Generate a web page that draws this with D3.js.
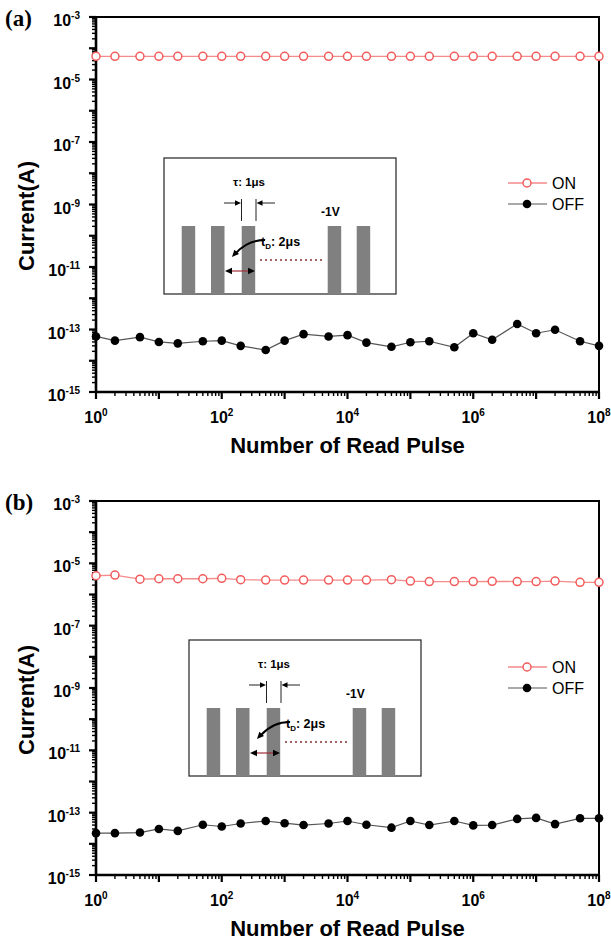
<!DOCTYPE html>
<html>
<head>
<meta charset="utf-8">
<script src="https://cdn.jsdelivr.net/npm/d3@7/dist/d3.min.js"></script>
<style>
  html, body { margin: 0; padding: 0; background: #fff; }
  svg { display: block; }
  text { font-family: Arial, "Liberation Sans", sans-serif; }
</style>
</head>
<body>
<svg id="chart" width="611" height="940"></svg>
<script>
// ---------------- data ----------------
const pulses = [1, 2, 5, 10, 20, 50, 100, 200, 500, 1e3, 2e3, 5e3, 1e4, 2e4, 5e4,
                1e5, 2e5, 5e5, 1e6, 2e6, 5e6, 1e7, 2e7, 5e7, 1e8];

const onA  = [5.5e-5, 5.5e-5, 5.5e-5, 5.5e-5, 5.5e-5, 5.5e-5, 5.5e-5, 5.5e-5, 5.5e-5,
              5.5e-5, 5.5e-5, 5.5e-5, 5.5e-5, 5.5e-5, 5.5e-5, 5.5e-5, 5.5e-5, 5.5e-5,
              5.5e-5, 5.5e-5, 5.5e-5, 5.5e-5, 5.5e-5, 5.5e-5, 5.5e-5];
const offA = [6.0e-14, 4.4e-14, 5.7e-14, 4.0e-14, 3.6e-14, 4.2e-14, 4.4e-14, 3.0e-14, 2.2e-14,
              4.4e-14, 7.1e-14, 6.0e-14, 6.6e-14, 3.8e-14, 2.8e-14, 3.9e-14, 4.2e-14, 2.7e-14,
              7.6e-14, 4.7e-14, 1.5e-13, 7.6e-14, 9.8e-14, 4.2e-14, 3.0e-14];

const onB  = [4.0e-6, 4.2e-6, 3.1e-6, 3.2e-6, 3.2e-6, 3.2e-6, 3.3e-6, 3.0e-6, 2.9e-6,
              2.9e-6, 2.9e-6, 2.9e-6, 2.9e-6, 2.9e-6, 3.0e-6, 2.7e-6, 2.6e-6, 2.6e-6,
              2.6e-6, 2.65e-6, 2.6e-6, 2.6e-6, 2.7e-6, 2.45e-6, 2.45e-6];
const offB = [2.2e-14, 2.2e-14, 2.3e-14, 3.0e-14, 2.6e-14, 4.1e-14, 3.6e-14, 4.5e-14, 5.4e-14,
              4.6e-14, 4.0e-14, 4.5e-14, 5.4e-14, 4.1e-14, 3.3e-14, 5.4e-14, 4.0e-14, 5.4e-14,
              3.9e-14, 4.0e-14, 6.3e-14, 6.8e-14, 4.3e-14, 6.6e-14, 6.6e-14];

const xTickExps = [0, 2, 4, 6, 8];
const yTickExps = [-3, -5, -7, -9, -11, -13, -15];
const seriesNames = ["ON", "OFF"];
const panelLabels = ["(a)", "(b)"];
const xTitle = "Number of Read Pulse";
const yTitle = "Current(A)";

// ---------------- drawing ----------------
const svg = d3.select("#chart");
const ON_COLOR = "#f25c5c";
const ON_LINE = "#f58a8a";

function supLabel(sel, exp) {
  sel.append("tspan").text("10");
  sel.append("tspan").attr("dy", -7).attr("font-size", 10).text(String(exp));
}

function drawPanel(cfg) {
  const g = svg.append("g");
  const x = d3.scaleLog().domain([1, 1e8]).range([cfg.left, cfg.right]);
  const y = d3.scaleLog().domain([1e-15, 1e-3]).range([cfg.bottom, cfg.top]);

  // minor & major ticks (outside)
  const yMinor = [], xMinor = [];
  for (let e = -15; e < -3; e++) for (let m = 2; m <= 9; m++) yMinor.push(m * Math.pow(10, e));
  for (let e = 0; e < 8; e++) for (let m = 2; m <= 9; m++) xMinor.push(m * Math.pow(10, e));
  const yMajor = d3.range(-15, -2).map(e => Math.pow(10, e));
  const xMajor = d3.range(0, 9).map(e => Math.pow(10, e));

  g.selectAll(".ymin").data(yMinor).join("line")
    .attr("x1", cfg.left - 4).attr("x2", cfg.left)
    .attr("y1", d => y(d)).attr("y2", d => y(d))
    .attr("stroke", "#000").attr("stroke-width", 1.4);
  g.selectAll(".ymaj").data(yMajor).join("line")
    .attr("x1", cfg.left - 7).attr("x2", cfg.left)
    .attr("y1", d => y(d)).attr("y2", d => y(d))
    .attr("stroke", "#000").attr("stroke-width", 2.2);
  g.selectAll(".xmin").data(xMinor).join("line")
    .attr("x1", d => x(d)).attr("x2", d => x(d))
    .attr("y1", cfg.bottom).attr("y2", cfg.bottom + 4)
    .attr("stroke", "#000").attr("stroke-width", 1.4);
  g.selectAll(".xmaj").data(xMajor).join("line")
    .attr("x1", d => x(d)).attr("x2", d => x(d))
    .attr("y1", cfg.bottom).attr("y2", cfg.bottom + 7)
    .attr("stroke", "#000").attr("stroke-width", 2.2);

  // frame
  g.append("rect")
    .attr("x", cfg.left).attr("y", cfg.top)
    .attr("width", cfg.right - cfg.left).attr("height", cfg.bottom - cfg.top)
    .attr("fill", "none").attr("stroke", "#000").attr("stroke-width", 2);
  g.append("line").attr("x1", cfg.left).attr("x2", cfg.left)
    .attr("y1", cfg.top).attr("y2", cfg.bottom + 1)
    .attr("stroke", "#000").attr("stroke-width", 2.6);
  g.append("line").attr("x1", cfg.left - 1).attr("x2", cfg.right)
    .attr("y1", cfg.bottom).attr("y2", cfg.bottom)
    .attr("stroke", "#000").attr("stroke-width", 2.6);

  // tick labels
  yTickExps.forEach(e => {
    const t = g.append("text").attr("x", 80).attr("y", y(Math.pow(10, e)) + 9)
      .attr("text-anchor", "end").attr("font-size", 16).attr("font-weight", "bold");
    supLabel(t, e);
  });
  xTickExps.forEach(e => {
    const t = g.append("text").attr("x", x(Math.pow(10, e))).attr("y", cfg.bottom + 31)
      .attr("text-anchor", "middle").attr("font-size", 16).attr("font-weight", "bold");
    supLabel(t, e);
  });

  // axis titles
  g.append("text").attr("x", (cfg.left + cfg.right) / 2).attr("y", cfg.bottom + 61)
    .attr("text-anchor", "middle").attr("font-size", 22).attr("font-weight", "bold")
    .text(xTitle);
  g.append("text")
    .attr("transform", `translate(34,${cfg.yTitleY}) rotate(-90)`)
    .attr("text-anchor", "middle").attr("font-size", 22).attr("font-weight", "bold")
    .text(yTitle);

  // panel label (serif)
  g.append("text").attr("x", 5).attr("y", cfg.top + 9)
    .style("font-family", "'Liberation Serif', 'Times New Roman', 'DejaVu Serif', serif")
    .attr("font-size", 23).attr("font-weight", "bold").text(cfg.label);

  // inset
  drawInset(g, cfg.insetX, cfg.insetY);

  // series
  const line = d3.line().x((d, i) => x(pulses[i])).y(d => y(d));
  g.append("path").datum(cfg.off).attr("d", line)
    .attr("fill", "none").attr("stroke", "#555").attr("stroke-width", 1.2);
  g.append("path").datum(cfg.on).attr("d", line)
    .attr("fill", "none").attr("stroke", ON_LINE).attr("stroke-width", 1.3);
  g.selectAll(".offpt").data(cfg.off).join("circle")
    .attr("cx", (d, i) => x(pulses[i])).attr("cy", d => y(d)).attr("r", 4.3)
    .attr("fill", "#000");
  g.selectAll(".onpt").data(cfg.on).join("circle")
    .attr("cx", (d, i) => x(pulses[i])).attr("cy", d => y(d)).attr("r", 4)
    .attr("fill", "#fff").attr("stroke", ON_COLOR).attr("stroke-width", 1.5);

  // legend
  const lg = g.append("g");
  const ly = [cfg.legendY, cfg.legendY + 21];
  lg.append("line").attr("x1", 508).attr("x2", 547).attr("y1", ly[0]).attr("y2", ly[0])
    .attr("stroke", ON_LINE).attr("stroke-width", 1.3);
  lg.append("circle").attr("cx", 527).attr("cy", ly[0]).attr("r", 4)
    .attr("fill", "#fff").attr("stroke", ON_COLOR).attr("stroke-width", 1.5);
  lg.append("line").attr("x1", 508).attr("x2", 547).attr("y1", ly[1]).attr("y2", ly[1])
    .attr("stroke", "#555").attr("stroke-width", 1.2);
  lg.append("circle").attr("cx", 527).attr("cy", ly[1]).attr("r", 4.3).attr("fill", "#000");
  seriesNames.forEach((s, i) => {
    lg.append("text").attr("x", 552).attr("y", ly[i] + 6).attr("font-size", 16).text(s);
  });
}

function arrowHead(g, tipX, tipY, angleDeg, size) {
  const a = angleDeg * Math.PI / 180;
  const L = size, W = size * 0.45;
  const bx = tipX - L * Math.cos(a), by = tipY - L * Math.sin(a);
  const px = -Math.sin(a) * W, py = Math.cos(a) * W;
  g.append("path")
    .attr("d", `M${tipX},${tipY}L${bx + px},${by + py}L${bx - px},${by - py}Z`)
    .attr("fill", "#000");
}

function drawInset(parent, ox, oy) {
  const g = parent.append("g").attr("transform", `translate(${ox},${oy})`);
  const W = 232, H = 136;
  g.append("rect").attr("x", 0).attr("y", 0).attr("width", W).attr("height", H)
    .attr("fill", "#fff").attr("stroke", "#333").attr("stroke-width", 1.3);
  [17.7, 47, 77.7, 163.7, 192.7].forEach(bx => {
    g.append("rect").attr("x", bx).attr("y", 68).attr("width", 13.5).attr("height", H - 68)
      .attr("fill", "#808080");
  });
  // tau markers
  [77.5, 92].forEach(vx => {
    g.append("line").attr("x1", vx).attr("x2", vx).attr("y1", 41).attr("y2", 63)
      .attr("stroke", "#222").attr("stroke-width", 1);
  });
  g.append("line").attr("x1", 60).attr("x2", 72).attr("y1", 45).attr("y2", 45)
    .attr("stroke", "#222").attr("stroke-width", 1);
  arrowHead(g, 77, 45, 0, 6);
  g.append("line").attr("x1", 98).attr("x2", 111).attr("y1", 45).attr("y2", 45)
    .attr("stroke", "#222").attr("stroke-width", 1);
  arrowHead(g, 92.5, 45, 180, 6);
  g.append("text").attr("x", 85).attr("y", 28).attr("text-anchor", "middle")
    .attr("font-size", 11.5).attr("font-weight", "bold").text("τ: 1μs");
  g.append("text").attr("x", 157).attr("y", 58)
    .attr("font-size", 12).attr("font-weight", "bold").text("-1V");
  const td = g.append("text").attr("x", 97).attr("y", 88)
    .attr("font-size", 12.5).attr("font-weight", "bold");
  td.append("tspan").text("t");
  td.append("tspan").attr("dy", 3).attr("font-size", 8).text("D");
  td.append("tspan").attr("dy", -3).text(": 2μs");
  // curved arrow
  g.append("path").attr("d", "M101,82 Q84,82 72,95")
    .attr("fill", "none").attr("stroke", "#000").attr("stroke-width", 2);
  arrowHead(g, 68, 99, 132, 7);
  // double arrow
  g.append("line").attr("x1", 66).attr("x2", 86).attr("y1", 113).attr("y2", 113)
    .attr("stroke", "#a0303a").attr("stroke-width", 1.2);
  arrowHead(g, 61, 113, 180, 7);
  arrowHead(g, 91, 113, 0, 7);
  // dotted
  g.append("line").attr("x1", 96).attr("x2", 158).attr("y1", 102).attr("y2", 102)
    .attr("stroke", "#8a3030").attr("stroke-width", 1.4).attr("stroke-dasharray", "2,3");
}

drawPanel({ label: panelLabels[0], left: 96, right: 599, top: 17, bottom: 392,
            on: onA, off: offA, insetX: 164, insetY: 158, legendY: 183, yTitleY: 216 });
drawPanel({ label: panelLabels[1], left: 96, right: 599, top: 501, bottom: 875,
            on: onB, off: offB, insetX: 189, insetY: 640, legendY: 667, yTitleY: 700 });
</script>
</body>
</html>
